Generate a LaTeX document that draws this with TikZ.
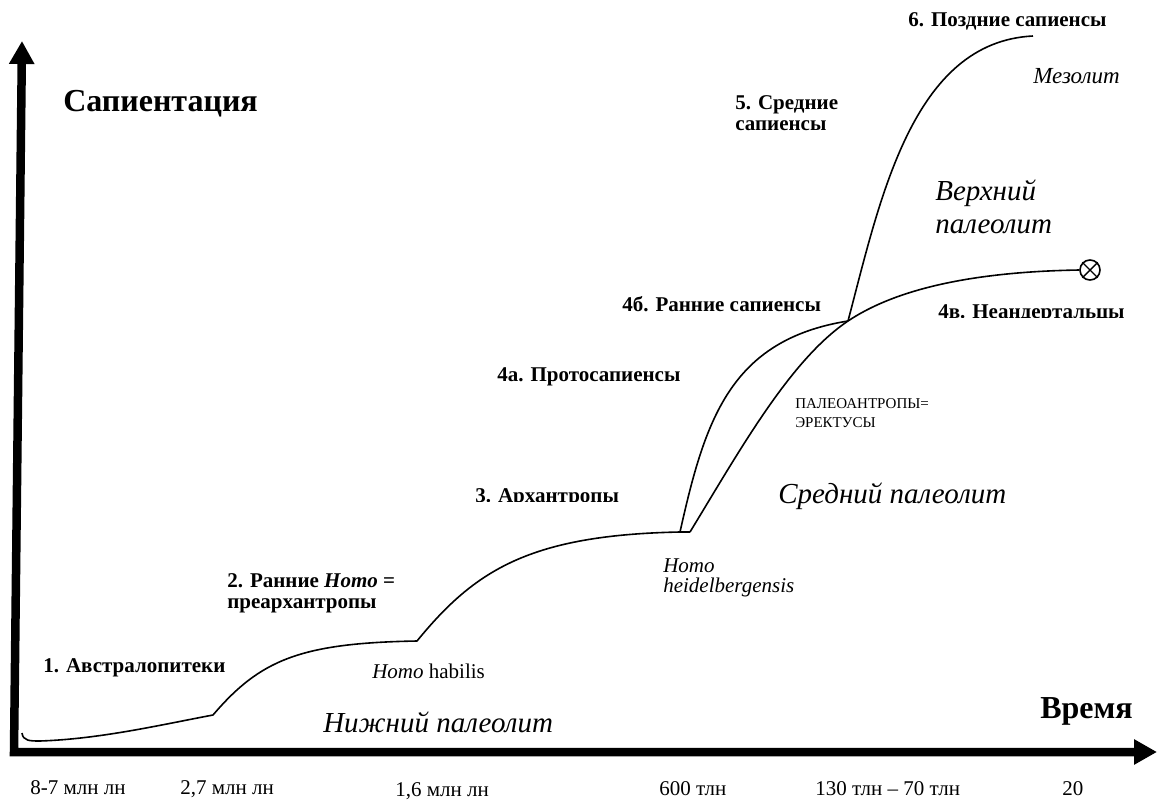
\documentclass[tikz,border=0pt]{standalone}
\usepackage{fontspec}
\setmainfont{Liberation Serif}
\usetikzlibrary{arrows.meta}
\begin{document}
\begin{tikzpicture}[x=1pt,y=-1pt,semithick,>={Triangle[length=23pt,width=24pt]},
    axis/.style={line width=8.5pt,line join=miter},
    curve/.style={line width=1.6pt,line join=round},
    stage/.style={anchor=base west,inner sep=0pt,align=left,font=\bfseries\fontsize{21}{20.5}\selectfont},
    epoch/.style={anchor=base west,inner sep=0pt,align=left,font=\itshape\fontsize{29}{33}\selectfont},
    small/.style={anchor=base west,inner sep=0pt,align=left,font=\fontsize{21}{20}\selectfont},
    big/.style={anchor=base west,inner sep=0pt,font=\bfseries\fontsize{32}{36}\selectfont}]
  \useasboundingbox (0,0) rectangle (1157,803);
  % axes
  \draw[axis,<->](22,41)--(14,752)--(1157,752);
  \node[big](sap)at(63,111){Сапиентация};
  \node[big](time)at(1040,718){Время};
  % kinks of the curve
  \coordinate(k1)at(213,715);
  \coordinate(k2)at(417,641);
  \coordinate(k3)at(680,532);
  \coordinate(k3b)at(690,532);
  \coordinate(k4)at(848,321);
  \coordinate(k5)at(1033,36);
  \node[draw,circle,line width=1.6pt,minimum size=20pt,inner sep=0pt](ext)at(1090,270){};
  \draw[line width=1.4pt](ext.north west)--(ext.south east)(ext.north east)--(ext.south west);
  \draw[curve](22,733)..controls(23,741)and(30,741)..(40,741)..controls(100,739)and(160,725)..(k1)
    ..controls(260,660)and(300,643)..(k2)
    ..controls(475,570)and(530,535)..(k3)--(k3b);
  \draw[curve](k3)..controls(705,420)and(730,340)..(k4);
  \draw[curve](k3b)..controls(740,450)and(790,360)..(k4)..controls(890,293)and(960,272)..(ext.west);
  \draw[curve](k4)..controls(880,200)and(912,42)..(k5);
  % stages (multi-line nodes sit on their last baseline)
  \node[stage](s1)at(43,672){1. Австралопитеки};
  \node[stage](s2)at(227,608){2. Ранние \textit{Homo} =\\преархантропы};
  \begin{scope}
    \clip(470,480)rectangle(630,501);
    \node[stage](s3)at(475,502){3. Архантропы};
  \end{scope}
  \node[stage](s4a)at(497,381){4а. Протосапиенсы};
  \node[stage](s4b)at(622,311){4б. Ранние сапиенсы};
  \begin{scope}
    \clip(930,295)rectangle(1135,317);
    \node[stage](s4v)at(938,318){4в. Неандертальцы};
  \end{scope}
  \node[stage](s5)at(735,130){5. Средние\\сапиенсы};
  \node[stage](s6)at(908,27){6. Поздние сапиенсы};
  % epochs
  \node[epoch](lower)at(323,732){Нижний палеолит};
  \node[epoch](middle)at(778,503){Средний палеолит};
  \node[epoch](upper)at(935,233){Верхний\\палеолит};
  \node[small,font=\itshape\fontsize{23}{23}\selectfont](meso)at(1033,83){Мезолит};
  % taxa
  \node[small](habilis)at(372,678){\textit{Homo} habilis};
  \node[small,font=\itshape\fontsize{21}{20}\selectfont](heid)at(663,592){Homo\\heidelbergensis};
  \node[small,font=\fontsize{15}{19}\selectfont](paleo)at(795,427){ПАЛЕОАНТРОПЫ=\\ЭРЕКТУСЫ};
  % dates
  \node[small](d1)at(30,794){8-7 млн лн};
  \node[small](d2)at(180,794){2,7 млн лн};
  \node[small](d3)at(395,796){1,6 млн лн};
  \node[small](d4)at(659,795){600 тлн};
  \node[small](d5)at(815,795){130 тлн – 70 тлн};
  \node[small](d6)at(1062,795){20};
\end{tikzpicture}
\end{document}
